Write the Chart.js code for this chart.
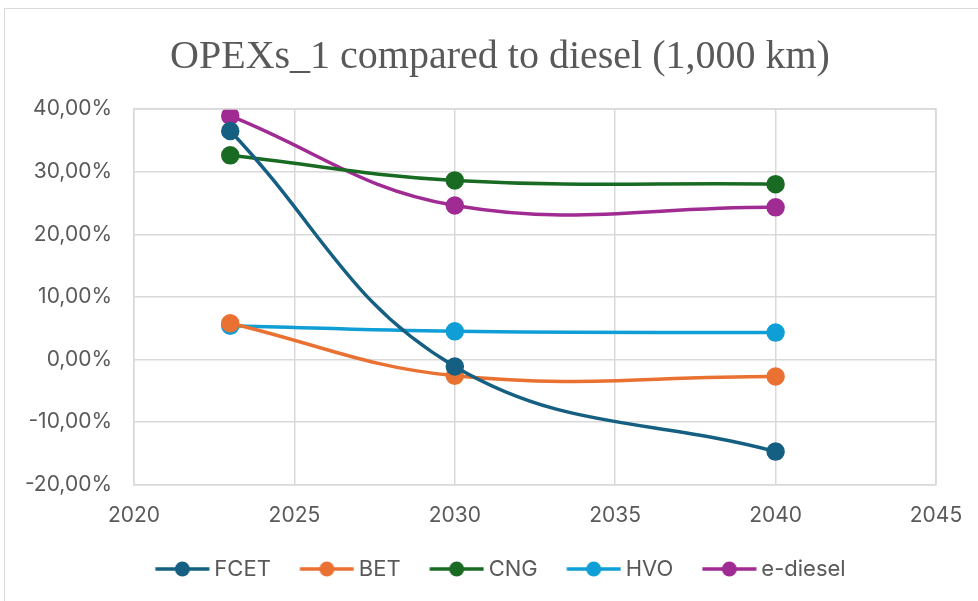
<!DOCTYPE html>
<html>
<head>
<meta charset="utf-8">
<script src="https://cdn.jsdelivr.net/npm/chart.js@4.4.1/dist/chart.umd.min.js"></script>
<style>
  html, body { margin: 0; padding: 0; background: #fff; overflow: hidden; }
  #wrap { position: absolute; left: 0; top: 0; width: 978px; height: 601px; }
  #frame { position: absolute; left: 4px; top: 8px; width: 990px; height: 610px; border: 1px solid #d9d9d9; box-sizing: border-box; pointer-events: none; }
</style>
</head>
<body>
<div id="wrap"><canvas id="chart" width="978" height="601"></canvas></div>
<div id="frame"></div>
<script>
// years on the x axis
const years = [2023, 2030, 2040];

// OPEX difference vs diesel (fraction)
const fcet = [0.365, -0.011, -0.147];
const bet = [0.058, -0.026, -0.027];
const cng = [0.326, 0.286, 0.280];
const hvo = [0.054, 0.045, 0.043];
const eDiesel = [0.389, 0.246, 0.243];

const seriesNames = ["FCET", "BET", "CNG", "HVO", "e-diesel"];
const seriesValues = [fcet, bet, cng, hvo, eDiesel];
const colors = ["#156082", "#E97132", "#196B24", "#0F9ED5", "#A02B93"];

const xTicks = [2020, 2025, 2030, 2035, 2040, 2045];

const tickFont = { family: "Inter", size: 21 };
const textColor = "#595959";

// line+marker image for the legend (extra blank space on the left)
function legendIcon(color) {
  const c = document.createElement("canvas");
  c.width = 62;
  c.height = 18;
  const ctx = c.getContext("2d");
  ctx.strokeStyle = color;
  ctx.lineWidth = 3.5;
  ctx.beginPath();
  ctx.moveTo(7.5, 9);
  ctx.lineTo(61.5, 9);
  ctx.stroke();
  ctx.fillStyle = color;
  ctx.beginPath();
  ctx.arc(34.5, 9, 7.5, 0, Math.PI * 2);
  ctx.fill();
  return c;
}

const datasets = seriesNames.map((name, i) => ({
  label: name,
  data: years.map((y, j) => ({ x: y, y: seriesValues[i][j] })),
  borderColor: colors[i],
  backgroundColor: colors[i],
  pointBackgroundColor: colors[i],
  pointBorderColor: colors[i],
  pointRadius: 7.5,
  pointHoverRadius: 7.5,
  borderWidth: 3.5,
  tension: 0.4,
  showLine: true,
  pointStyle: "circle",
}));

const icons = colors.map(legendIcon);

new Chart(document.getElementById("chart"), {
  type: "scatter",
  data: { datasets: datasets },
  options: {
    responsive: false,
    animation: false,
    layout: { padding: { left: 22, right: 0, top: 0, bottom: -5 } },
    plugins: {
      title: {
        display: true,
        text: "OPEXs_1 compared to diesel (1,000 km)",
        color: textColor,
        font: { family: "Liberation Serif", size: 40, weight: "normal" },
        padding: { top: 33, bottom: 28 },
      },
      legend: {
        position: "bottom",
        labels: {
          usePointStyle: true,
          pointStyleWidth: 49,
          color: textColor,
          font: { family: "Inter", size: 22 },
          padding: 28,
          generateLabels: (chart) =>
            chart.data.datasets.map((ds, i) => ({
              text: ds.label,
              pointStyle: icons[i],
              fontColor: textColor,
              strokeStyle: ds.borderColor,
              fillStyle: ds.borderColor,
              lineWidth: 0,
              hidden: false,
              datasetIndex: i,
            })),
        },
      },
      tooltip: { enabled: false },
    },
    scales: {
      x: {
        type: "linear",
        min: 2020,
        max: 2045,
        afterBuildTicks: (scale) => {
          scale.ticks = xTicks.map((v) => ({ value: v }));
        },
        afterFit: (scale) => {
          scale.paddingRight = 42;
        },
        ticks: {
          color: textColor,
          font: tickFont,
          padding: 18,
          callback: (v) => String(v),
        },
        grid: { color: "#d9d9d9", lineWidth: 1.5, drawTicks: false },
        border: { color: "#d9d9d9", width: 1.5 },
      },
      y: {
        min: -0.2,
        max: 0.4,
        afterFit: (scale) => {
          scale.width = 112;
        },
        ticks: {
          stepSize: 0.1,
          color: textColor,
          font: tickFont,
          padding: 22,
          callback: (v) => (v * 100).toFixed(2).replace(".", ",") + "%",
        },
        grid: { color: "#d9d9d9", lineWidth: 1.5, drawTicks: false },
        border: { color: "#d9d9d9", width: 1.5 },
      },
    },
  },
  plugins: [
    {
      id: "legendShift",
      afterLayout: (chart) => {
        chart.legend.top -= 16;
        chart.legend.bottom -= 16;
      },
    },
    {
      id: "rightBorder",
      afterDraw: (chart) => {
        const a = chart.chartArea;
        const ctx = chart.ctx;
        ctx.save();
        ctx.strokeStyle = "#d9d9d9";
        ctx.lineWidth = 1.5;
        ctx.beginPath();
        ctx.moveTo(a.left, a.top);
        ctx.lineTo(a.right, a.top);
        ctx.lineTo(a.right, a.bottom);
        ctx.stroke();
        ctx.restore();
      },
    },
  ],
});
</script>
</body>
</html>
